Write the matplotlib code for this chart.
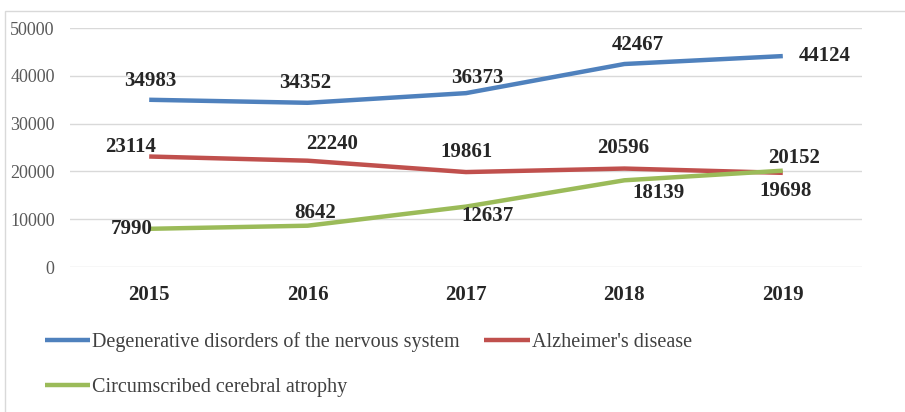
import matplotlib.pyplot as plt
from matplotlib.patches import Rectangle

years = ["2015", "2016", "2017", "2018", "2019"]
degenerative = [34983, 34352, 36373, 42467, 44124]
alzheimer = [23114, 22240, 19861, 20596, 19698]
atrophy = [7990, 8642, 12637, 18139, 20152]

series_names = [
    "Degenerative disorders of the nervous system",
    "Alzheimer's disease",
    "Circumscribed cerebral atrophy",
]

# label offsets in pixels (dx, dy) relative to each point
label_offsets = {
    0: [(1, 19), (-2, 20), (11, 15), (13, 19), (42, 0)],
    1: [(-19, 10), (24, 17), (0, 20), (-1, 21), (3, -18)],
    2: [(-18, 0), (8, 13), (21, -9), (34, -13), (11, 13)],
}

colors = ["#4F81BD", "#C0504D", "#9BBB59"]
serif = "Liberation Serif"

fig = plt.figure(figsize=(9.05, 4.12), dpi=100)
ax = fig.add_axes([70 / 905, 1 - 267 / 412, (862 - 70) / 905, (267 - 28) / 412])

x = list(range(len(years)))
all_series = [degenerative, alzheimer, atrophy]
handles = []
for i, vals in enumerate(all_series):
    (h,) = ax.plot(x, vals, color=colors[i], lw=3.2, solid_capstyle="butt",
                   label=series_names[i], zorder=3)
    handles.append(h)
    for j, v in enumerate(vals):
        dx, dy = label_offsets[i][j]
        ax.annotate(str(v), (x[j], v), xytext=(dx * 0.72, dy * 0.72),
                    textcoords="offset points", ha="center", va="center",
                    fontfamily=serif, fontweight="bold", fontsize=15,
                    color="#262626", zorder=4)

ax.set_xlim(-0.5, len(years) - 0.5)
ax.set_ylim(0, 50000)
ax.set_yticks(range(0, 50001, 10000))
ax.set_xticks(x)
ax.set_xticklabels(years, fontfamily=serif, fontweight="bold", fontsize=15, color="#262626")
for lab in ax.get_yticklabels():
    lab.set_fontfamily(serif)
    lab.set_fontsize(13)
    lab.set_color("#595959")
ax.tick_params(axis="both", length=0)
ax.tick_params(axis="x", pad=13)
ax.tick_params(axis="y", pad=11)
ax.grid(axis="y", color="#D9D9D9", lw=1)
ax.set_axisbelow(True)
for s in ax.spines.values():
    s.set_visible(False)

leg = fig.legend([handles[0], handles[2], handles[1]],
                 [series_names[0], series_names[2], series_names[1]],
                 ncol=2, loc="upper left", bbox_to_anchor=(27 / 905, 1 - 314 / 412),
                 frameon=False, handlelength=2.25, handletextpad=0.1,
                 columnspacing=1.2, labelspacing=1.27,
                 prop={"family": serif, "size": 14.5})
for t in leg.get_texts():
    t.set_color("#404040")

fig.patches.append(Rectangle((5 / 905, -0.1), 1.2, 1 - 11 / 412 + 0.1,
                             transform=fig.transFigure, fill=False,
                             edgecolor="#D9D9D9", lw=1))

fig.savefig("out.png", dpi=100)
